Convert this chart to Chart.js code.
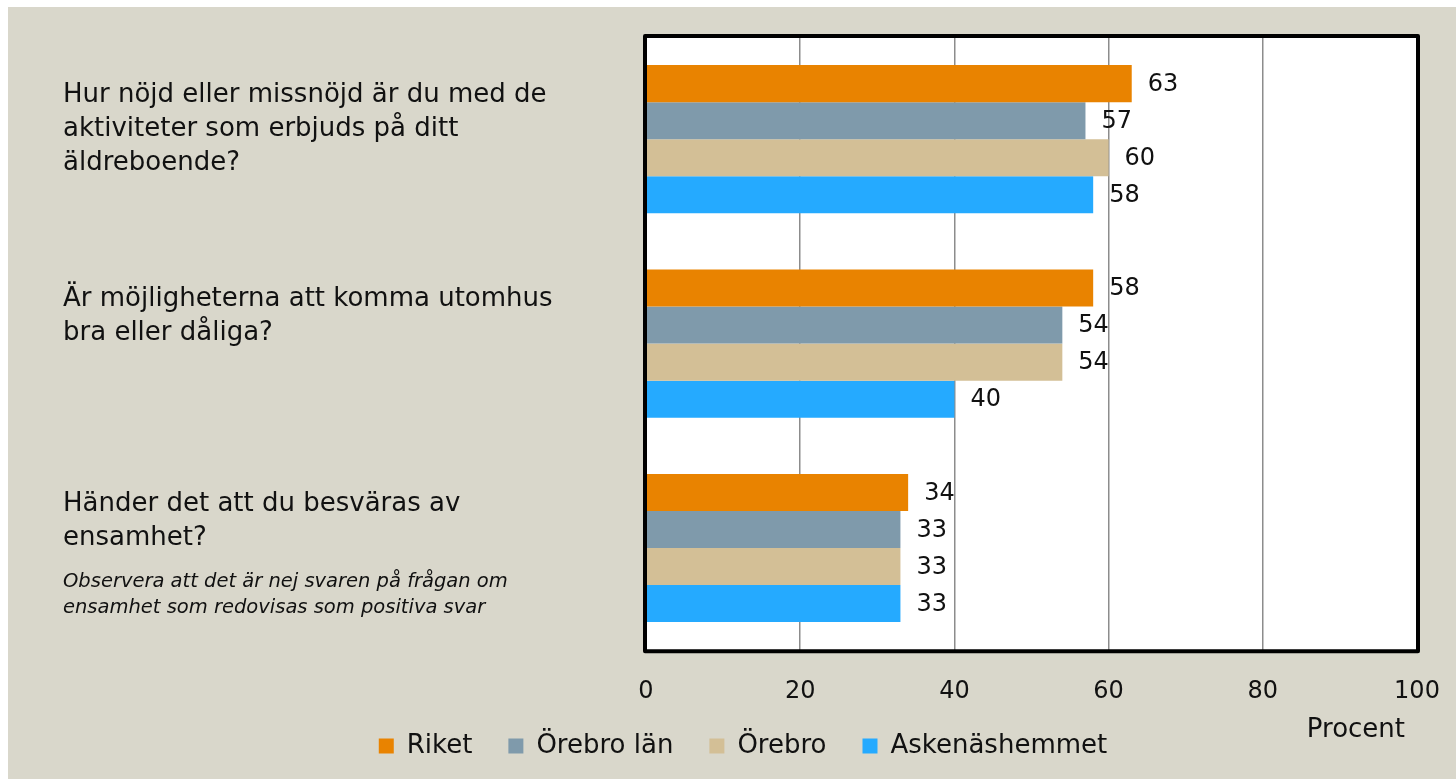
<!DOCTYPE html>
<html>
<head>
<meta charset="utf-8">
<script src="https://cdn.jsdelivr.net/npm/chart.js@4.4.1/dist/chart.umd.min.js"></script>
<style>
    html, body { margin: 0; padding: 0; background: #ffffff; }
    #wrap {
        position: absolute;
        left: 8px;
        top: 7px;
        width: 1448px;
        height: 772px;
        background: #d9d7cb;
    }
</style>
</head>
<body>
<div id="wrap"><canvas id="chart" width="1448" height="772"></canvas></div>
<script>
// Chart data
const questions = [
    ['Hur nöjd eller missnöjd är du med de', 'aktiviteter som erbjuds på ditt', 'äldreboende?'],
    ['Är möjligheterna att komma utomhus', 'bra eller dåliga?'],
    ['Händer det att du besväras av', 'ensamhet?']
];
const note = ['Observera att det är nej svaren på frågan om', 'ensamhet som redovisas som positiva svar'];
const seriesNames = ['Riket', 'Örebro län', 'Örebro', 'Askenäshemmet'];
const riket = [63, 58, 34];
const orebroLan = [57, 54, 33];
const orebro = [60, 54, 33];
const askenas = [58, 40, 33];
const xTicks = [0, 20, 40, 60, 80, 100];
const axisTitle = 'Procent';

const colors = ['#e98300', '#7f9aab', '#d3bf96', '#25aaff'];
const FONT = '"DejaVu Sans", sans-serif';

// Question texts on the left, plus note under the last one
const questionLabels = {
    id: 'questionLabels',
    afterDraw(chart) {
        const ctx = chart.ctx;
        const yScale = chart.scales.y;
        ctx.save();
        ctx.fillStyle = '#111111';
        ctx.textAlign = 'left';
        ctx.textBaseline = 'middle';
        ctx.font = '26px ' + FONT;
        questions.forEach((lines, i) => {
            const cy = yScale.getPixelForValue(i) - 44;
            lines.forEach((line, j) => {
                ctx.fillText(line, 55, cy + j * 34);
            });
        });
        ctx.font = 'italic 19.5px ' + FONT;
        const last = questions.length - 1;
        const ny = yScale.getPixelForValue(last) - 44 + (questions[last].length - 1) * 34 + 44;
        note.forEach((line, j) => {
            ctx.fillText(line, 55, ny + j * 26);
        });
        // axis title
        ctx.font = '26px ' + FONT;
        ctx.textAlign = 'right';
        ctx.fillText(axisTitle, chart.chartArea.right - 12, 723);
        ctx.restore();
    }
};

// Value labels after each bar
const valueLabels = {
    id: 'valueLabels',
    afterDatasetsDraw(chart) {
        const ctx = chart.ctx;
        ctx.save();
        ctx.fillStyle = '#111111';
        ctx.font = '24px ' + FONT;
        ctx.textAlign = 'left';
        ctx.textBaseline = 'middle';
        chart.data.datasets.forEach((ds, di) => {
            chart.getDatasetMeta(di).data.forEach((bar, i) => {
                ctx.fillText(ds.data[i], bar.x + 16, bar.y + 1);
            });
        });
        ctx.restore();
    }
};

// Thick black frame round the plot area
const frame = {
    id: 'frame',
    afterDraw(chart) {
        const a = chart.chartArea;
        const ctx = chart.ctx;
        ctx.save();
        ctx.strokeStyle = '#000000';
        ctx.lineWidth = 4;
        ctx.lineJoin = 'round';
        ctx.strokeRect(a.left - 1, a.top - 1, a.right - a.left + 2, a.bottom - a.top + 2);
        ctx.restore();
    }
};

// White plot background
const plotBg = {
    id: 'plotBg',
    beforeDraw(chart) {
        const a = chart.chartArea;
        chart.ctx.save();
        chart.ctx.fillStyle = '#ffffff';
        chart.ctx.fillRect(a.left, a.top, a.right - a.left, a.bottom - a.top);
        chart.ctx.restore();
    }
};

const seriesData = [riket, orebroLan, orebro, askenas];

new Chart(document.getElementById('chart'), {
    type: 'bar',
    data: {
        labels: questions.map(q => q.join(' ')),
        datasets: seriesNames.map((name, i) => ({
            label: name,
            data: seriesData[i],
            backgroundColor: colors[i],
            borderWidth: 0,
            barPercentage: 1.0,
            categoryPercentage: 0.725
        }))
    },
    options: {
        indexAxis: 'y',
        responsive: false,
        animation: false,
        layout: {
            padding: { left: 48, top: 30, right: 0, bottom: 10 }
        },
        scales: {
            x: {
                min: 0,
                max: 100,
                afterBuildTicks(axis) {
                    axis.ticks = xTicks.map(v => ({ value: v }));
                },
                afterFit(axis) {
                    axis.height = axis.height - 10;
                    axis.paddingLeft = 0;
                    axis.paddingRight = 0;
                },
                grid: { color: '#8c8c8c', lineWidth: 1.5, drawTicks: false },
                border: { display: false },
                ticks: {
                    color: '#111111',
                    font: { family: FONT, size: 24 },
                    padding: 27
                }
            },
            y: {
                afterFit(axis) { axis.width = 590; },
                ticks: { display: false },
                grid: { display: false },
                border: { display: false }
            },
            // empty spacer on the right, keeps room next to the plot
            yRight: {
                type: 'linear',
                position: 'right',
                afterFit(axis) { axis.width = 39; },
                ticks: { display: false },
                grid: { display: false },
                border: { display: false }
            }
        },
        plugins: {
            legend: {
                position: 'bottom',
                labels: {
                    boxWidth: 15,
                    boxHeight: 15,
                    padding: 10,
                    color: '#111111',
                    font: { family: FONT, size: 26 },
                    generateLabels(chart) {
                        return Chart.defaults.plugins.legend.labels.generateLabels(chart).map(item => {
                            item.text = item.text + '\u2002\u2002';
                            return item;
                        });
                    }
                }
            },
            tooltip: { enabled: false }
        }
    },
    plugins: [plotBg, valueLabels, questionLabels, frame]
});
</script>
</body>
</html>
